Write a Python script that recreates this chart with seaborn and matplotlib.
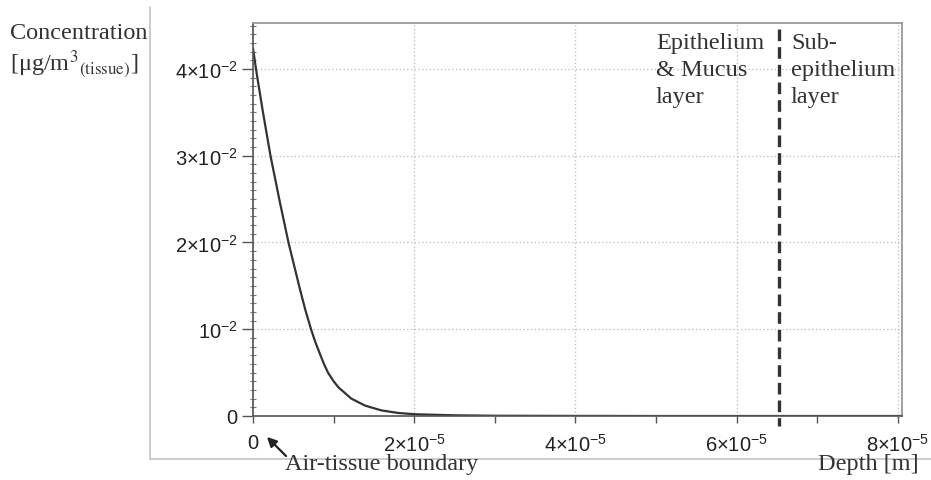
import numpy as np
import seaborn as sns
import matplotlib.pyplot as plt
from matplotlib.lines import Line2D
from matplotlib.ticker import MultipleLocator

# depth (x 1e-5 m) and concentration (x 1e-2 ug/m3)
depth_e5 = [0.000, 0.037, 0.120, 0.217, 0.330, 0.440, 0.580, 0.650, 0.720,
            0.770, 0.820, 0.880, 0.930, 1.000, 1.060, 1.220, 1.390, 1.590,
            1.800, 2.010, 2.500, 3.000, 4.000, 5.000, 8.050]
conc_e2 = [4.24, 4.00, 3.52, 3.00, 2.48, 2.00, 1.47, 1.22, 1.00,
           0.86, 0.74, 0.60, 0.50, 0.40, 0.33, 0.20, 0.12, 0.065,
           0.035, 0.020, 0.008, 0.003, 0.001, 0.000, 0.000]

x_ticks = [0, 2e-5, 4e-5, 6e-5, 8e-5]
x_tick_labels = ["0", r"$2{\times}10^{-5}$", r"$4{\times}10^{-5}$",
                 r"$6{\times}10^{-5}$", r"$8{\times}10^{-5}$"]
y_ticks = [0, 1e-2, 2e-2, 3e-2, 4e-2]
y_tick_labels = ["0", r"$10^{-2}$", r"$2{\times}10^{-2}$",
                 r"$3{\times}10^{-2}$", r"$4{\times}10^{-2}$"]

boundary_depth = 6.53e-5

depth = np.array(depth_e5) * 1e-5
conc = np.array(conc_e2) * 1e-2

sns.set_theme(style="white")
plt.rcParams['font.family'] = ['Liberation Sans', 'DejaVu Sans']
plt.rcParams['mathtext.fontset'] = 'custom'
plt.rcParams['mathtext.rm'] = 'Liberation Sans'
plt.rcParams['mathtext.it'] = 'Liberation Sans:italic'
plt.rcParams['mathtext.bf'] = 'Liberation Sans:bold'

W, H = 931, 481
fig = plt.figure(figsize=(W / 100, H / 100), dpi=100)
ax = fig.add_axes([253 / W, 1 - 417 / H, (902 - 253) / W, (417 - 24) / H])

sns.lineplot(x=depth, y=conc, ax=ax, color="#333333", linewidth=1.6)

ax.set_xlim(0, 8.05e-5)
ax.set_ylim(0, 4.53e-2)

ax.plot([boundary_depth, boundary_depth], [4.46e-2, -0.12e-2],
        color="#333333", lw=2.4, ls=(0, (3.5, 1.8)), clip_on=False)

ax.set_xticks(x_ticks)
ax.set_xticklabels(x_tick_labels)
ax.set_yticks(y_ticks)
ax.set_yticklabels(y_tick_labels)
ax.xaxis.set_minor_locator(MultipleLocator(1e-5))
ax.yaxis.set_minor_locator(MultipleLocator(1e-3))

ax.tick_params(axis='both', which='major', labelsize=14.5, color="#555555",
               labelcolor="#222222", width=1, direction='out')
ax.tick_params(axis='y', which='major', length=8, pad=3, left=True)
ax.tick_params(axis='x', which='major', length=5, pad=7, bottom=True)
ax.tick_params(axis='y', which='minor', length=5, width=0.8,
               direction='inout', color="#777777", left=True)
ax.tick_params(axis='x', which='minor', length=5, width=1,
               direction='out', color="#555555", bottom=True)

ax.grid(True, which='major', ls=(0, (1, 2)), color="#bbbbbb", lw=0.9)

for side in ["top", "right"]:
    ax.spines[side].set_color("#999999")
    ax.spines[side].set_linewidth(1.3)
for side in ["left", "bottom"]:
    ax.spines[side].set_color("#555555")
    ax.spines[side].set_linewidth(1.2)

# outer frame lines
fig.add_artist(Line2D([150 / W, 150 / W], [1 - 8 / H, 1 - 460 / H],
                      color="#c4c4c4", lw=1.2))
fig.add_artist(Line2D([150 / W, 1.0], [1 - 460 / H, 1 - 460 / H],
                      color="#c4c4c4", lw=1.2))

serif_font = ['Liberation Serif', 'DejaVu Serif']
txt = dict(family=serif_font, fontsize=17.5, color="#333333", ha='left')

fig.text(10 / W, 1 - 39 / H, "Concentration", va='baseline', **txt)
fig.text(10 / W, 1 - 71 / H, r"[μg/m$^{3}{}_{\rm (tissue)}$]",
         math_fontfamily='stix', va='baseline', **txt)

fig.text(656 / W, 1 - 33 / H, "Epithelium\n& Mucus\nlayer",
         linespacing=1.38, va='top', **txt)
fig.text(791 / W, 1 - 33 / H, "Sub-\nepithelium\nlayer",
         linespacing=1.38, va='top', **txt)

fig.text(285 / W, 1 - 470 / H, "Air-tissue boundary", va='baseline', **txt)
fig.text(818 / W, 1 - 470 / H, "Depth [m]", va='baseline', **txt)

fig.add_artist(plt.Annotation("", xy=(265 / W, 1 - 436 / H),
                              xytext=(288 / W, 1 - 459 / H),
                              xycoords='figure fraction',
                              arrowprops=dict(arrowstyle='-|>', color="#222222",
                                              lw=1.6, mutation_scale=14)))

plt.savefig("out.png", dpi=100)
plt.close()
